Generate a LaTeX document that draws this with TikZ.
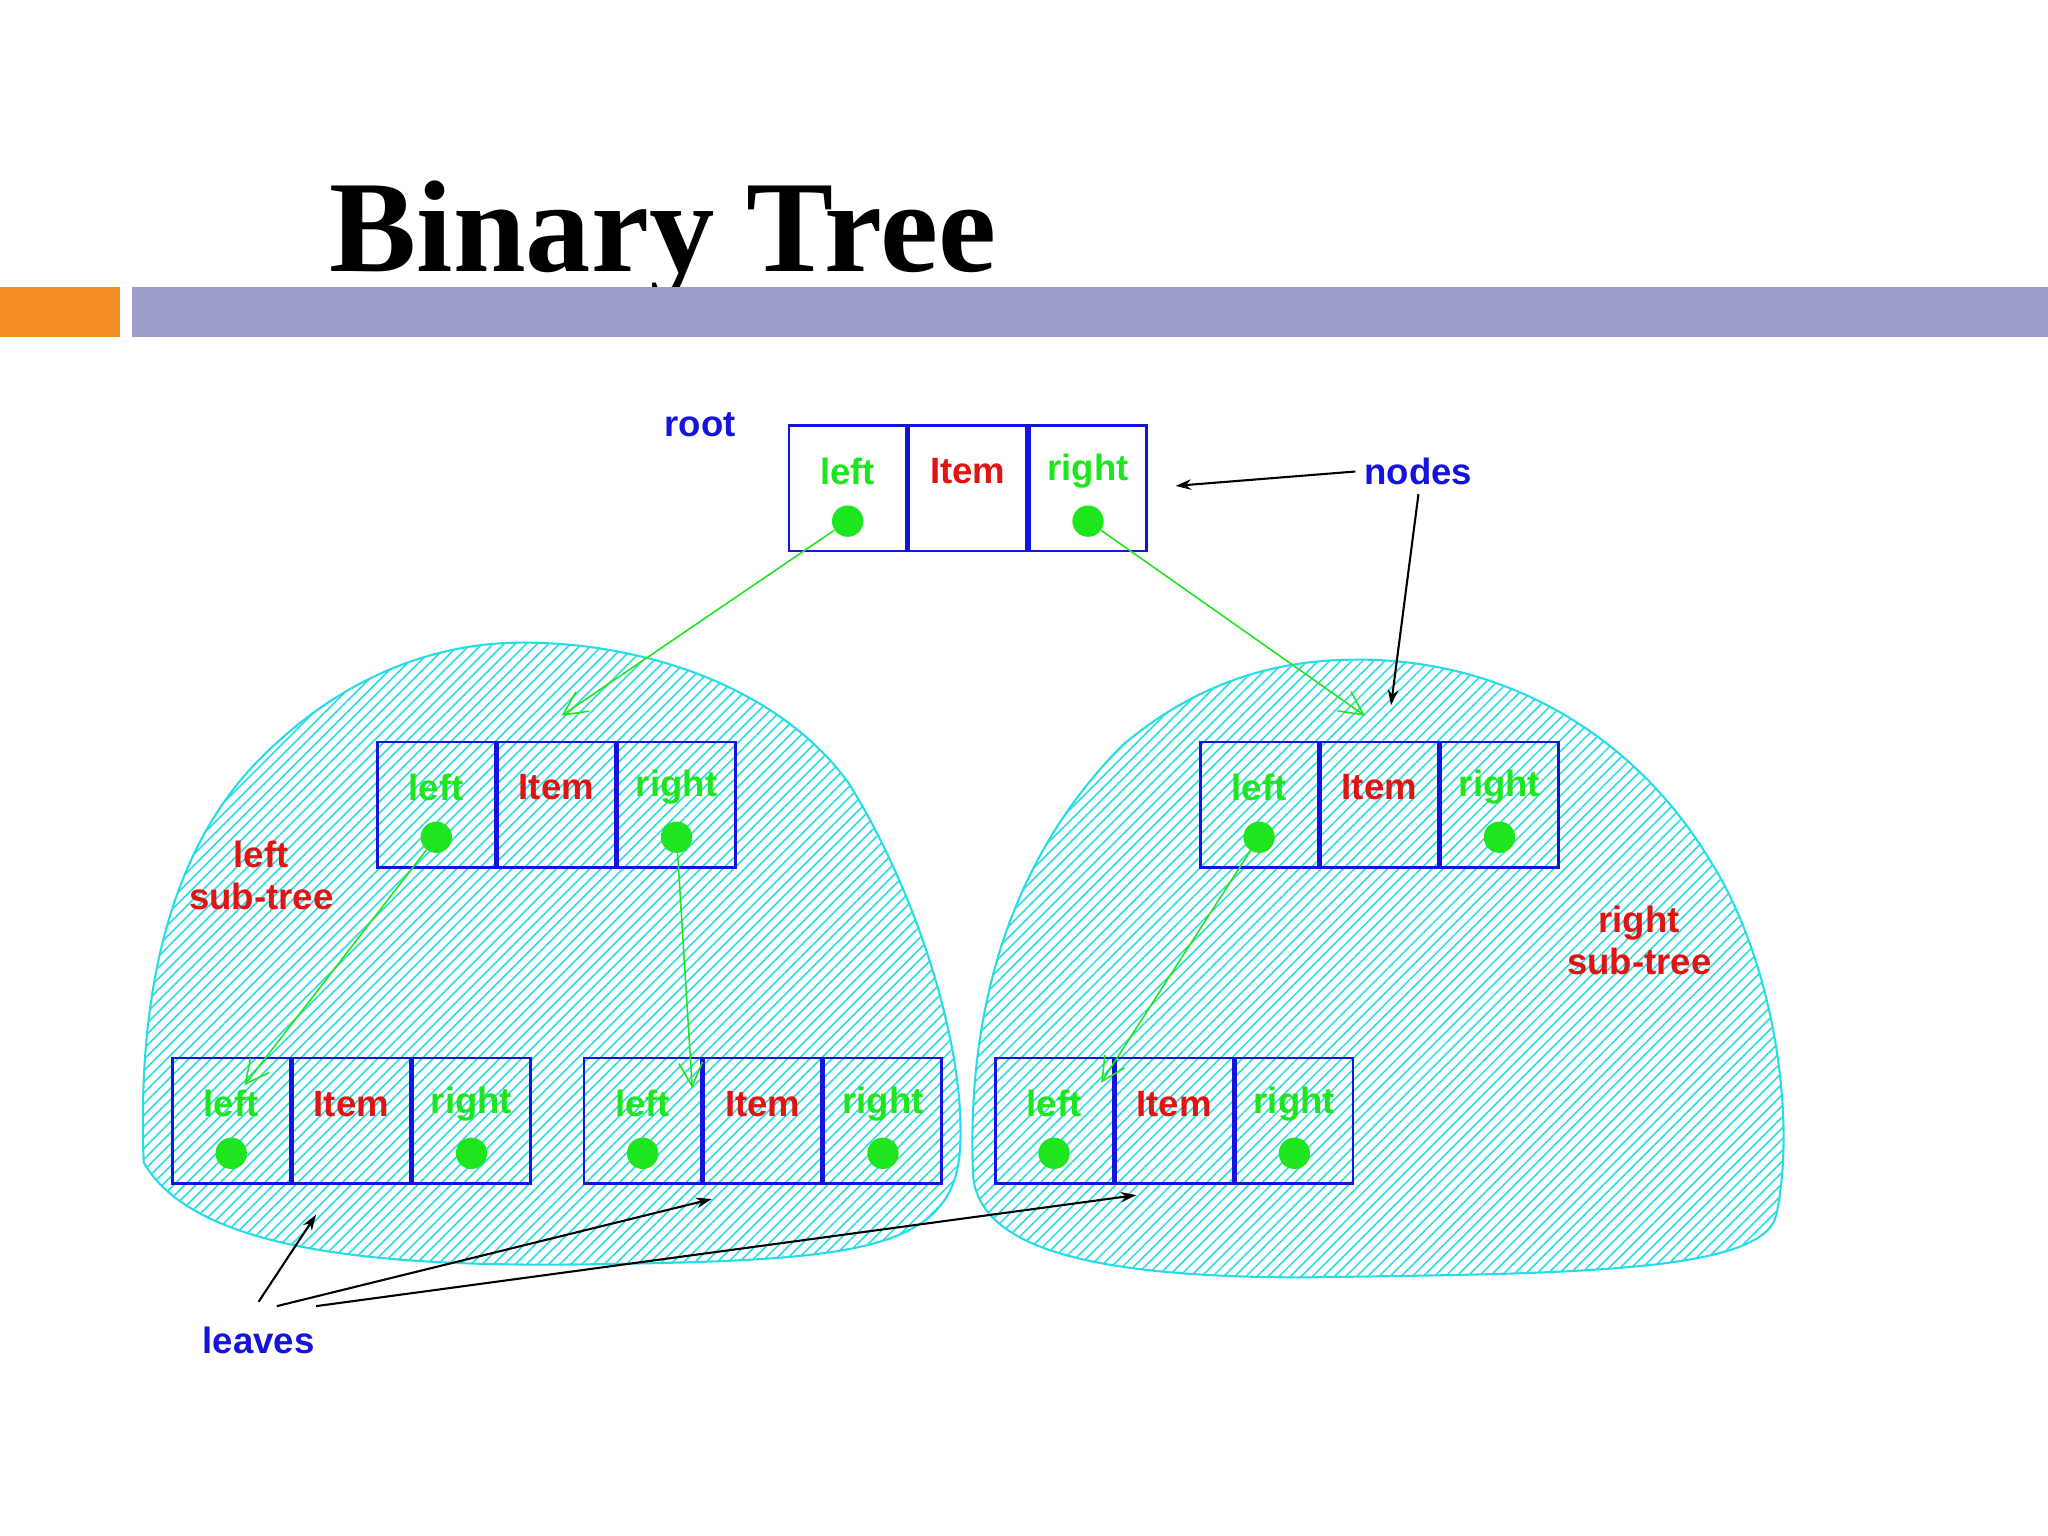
\documentclass[tikz,border=0pt]{standalone}
\usepackage{fontspec}
\setmainfont{Liberation Sans}
\newfontfamily\titlefont{Liberation Serif}
\usetikzlibrary{patterns.meta,arrows.meta}
\definecolor{gr}{RGB}{30,230,30}
\definecolor{rd}{RGB}{225,20,20}
\definecolor{bl}{RGB}{20,20,220}
\definecolor{cy}{RGB}{40,220,230}
\tikzset{
 cell/.style={draw=bl,line width=1pt,minimum width=45pt,minimum height=48pt,inner sep=0pt},
 lbl/.style={font=\fontsize{14}{16}\selectfont\bfseries},
 dot/.style={circle,fill=gr,minimum size=12pt,inner sep=0pt},
 garr/.style={draw=gr,line width=0.6pt,-{Straight Barb[length=9pt,width=9pt]}},
 karr/.style={draw=black,line width=0.8pt,-{Stealth[length=6pt,width=4pt]}},
 blob/.style={draw=cy,line width=0.8pt,pattern={Lines[angle=45,distance=3pt,line width=0.6pt]},pattern color=cy}
}
\newcommand{\treenode}[3]{%
 \node[cell,anchor=north west] (#1l) at (#2,#3) {};
 \node[cell,anchor=west] (#1i) at (#1l.east) {};
 \node[cell,anchor=west] (#1r) at (#1i.east) {};
 \node[lbl,text=gr] (#1lt) at ([yshift=-18pt]#1l.north) {left};
 \node[lbl,text=rd] (#1it) at ([yshift=-18pt]#1i.north) {Item};
 \node[lbl,text=gr] (#1rt) at ([yshift=-18pt]#1r.north) {right};
 \node[dot] (#1ld) at ([yshift=12pt]#1l.south) {};
 \node[dot] (#1rd) at ([yshift=12pt]#1r.south) {};
}
\begin{document}
\begin{tikzpicture}[x=0.5pt,y=-0.5pt]
\useasboundingbox (0,0) rectangle (1568,1176);
\fill[white] (0,0) rectangle (1568,1176);
\node[anchor=base west,inner sep=0pt,font=\titlefont\fontsize{50}{52}\selectfont\bfseries] (title) at (252,208) {Binary Tree};
\fill[orange!80!brown!90] (0,220) rectangle (92,258);
\fill[blue!30!gray!60] (101,220) rectangle (1568,258);
% blobs
\path[blob] (110,890) .. controls (105,760) and (130,650) .. (200,580) .. controls (260,520) and (330,492) .. (400,492) .. controls (500,492) and (600,530) .. (650,600) .. controls (700,680) and (740,800) .. (735,880) .. controls (730,960) and (650,965) .. (450,968) .. controls (300,970) and (150,960) .. (110,890) -- cycle;
\path[blob] (745,900) .. controls (740,780) and (770,660) .. (860,570) .. controls (920,520) and (980,505) .. (1040,505) .. controls (1150,505) and (1250,560) .. (1310,660) .. controls (1360,740) and (1375,860) .. (1360,930) .. controls (1350,975) and (1200,975) .. (1000,978) .. controls (850,978) and (750,960) .. (745,900) -- cycle;
\treenode{r}{603}{325}
\treenode{a}{288}{567}
\treenode{b}{918}{567}
\treenode{c}{131}{809}
\treenode{d}{446}{809}
\treenode{e}{761}{809}
\coordinate (t1) at (430,548);
\coordinate (t2) at (1045,548);
\draw[garr] (rld) -- (t1);
\draw[garr] (rrd) -- (t2);
\draw[garr] (ald) -- ([xshift=-18pt,yshift=-11pt]ci.north west);
\draw[garr] (ard) -- ([xshift=19pt,yshift=-12pt]dl.north);
\draw[garr] (bld) -- ([xshift=-28pt,yshift=-10pt]ei.north);
\node[lbl,text=bl] (root) at (536,325) {root};
\node[lbl,text=bl] (nodes) at (1086,361) {nodes};
\node[lbl,text=rd,align=center] (ls) at (200,670) {left\\sub-tree};
\node[lbl,text=rd,align=center] (rs) at (1255,720) {right\\sub-tree};
\node[lbl,text=bl] (leaves) at (198,1026) {leaves};
\coordinate (n1) at (900,372);
\coordinate (n2) at (1065,540);
\draw[karr] (nodes.west) -- (n1);
\draw[karr] ([xshift=0pt]nodes.south) -- (n2);
\coordinate (l1) at (242,930);
\coordinate (l2) at (545,918);
\coordinate (l3) at (870,915);
\draw[karr] ([xshift=0pt]leaves.north) ++(0,-12) -- (l1);
\draw[karr] (212,1000) -- (l2);
\draw[karr] (242,1000) -- (l3);
\end{tikzpicture}
\end{document}
